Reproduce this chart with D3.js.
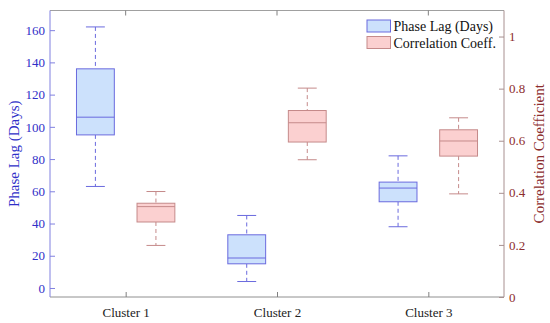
<!DOCTYPE html>
<html>
<head>
<meta charset="utf-8">
<script src="https://cdn.jsdelivr.net/npm/d3@7"></script>
<style>
  body { margin: 0; background: #fff; }
  svg, svg text { font-family: 'Liberation Serif', 'Times New Roman', Times, serif !important; }
</style>
</head>
<body>
<svg id="chart" width="550" height="323"></svg>
<script>
(function () {
    'use strict';

    // categories and box statistics: [whiskerLow, q1, median, q3, whiskerHigh]
    const clusters = ["Cluster 1", "Cluster 2", "Cluster 3"];
    const phaseLag = [
        [63, 95, 106, 136, 162],
        [4, 15, 18.6, 33, 45],
        [38, 53.5, 62, 65.7, 82]
    ];
    const corrCoeff = [
        [0.198, 0.288, 0.347, 0.36, 0.405],
        [0.527, 0.595, 0.669, 0.716, 0.802],
        [0.396, 0.541, 0.599, 0.642, 0.688]
    ];
    const leftTicks = [0, 20, 40, 60, 80, 100, 120, 140, 160];
    const rightTicks = [0, 0.2, 0.4, 0.6, 0.8, 1];

    const margin = {left: 50, right: 46, top: 10.5, bottom: 26};
    const width = 550, height = 323;
    const x0 = margin.left, x1 = width - margin.right;
    const y0 = height - margin.bottom, y1 = margin.top;

    const x = d3.scaleLinear().domain([0.5, 3.5]).range([x0, x1]);
    const yL = d3.scaleLinear().domain([-5.6, 172.2]).range([y0, y1]);
    const yR = d3.scaleLinear().domain([0, 1.1]).range([y0, y1]);

    const blue = {fill: "#cce1fc", stroke: "#6a6ade", text: "#2f2fc8", axis: "#8080e0"};
    const red = {fill: "#fbd0d0", stroke: "#c58a8a", text: "#8c2d2d", axis: "#a89090"};

    const svg = d3.select("#chart");

    // frame: top and bottom lines
    svg.append("line").attr("x1", x0).attr("x2", x1).attr("y1", y1).attr("y2", y1)
        .attr("stroke", "#a0a0a0");
    svg.append("line").attr("x1", x0).attr("x2", x1).attr("y1", y0).attr("y2", y0)
        .attr("stroke", "#909090");

    // bottom axis
    const gx = svg.append("g").attr("transform", `translate(0,${y0})`)
        .call(d3.axisBottom(x).tickValues([1, 2, 3]).tickSizeInner(-5).tickSizeOuter(0)
            .tickFormat(d => clusters[d - 1]));
    gx.attr("font-family", null).attr("font-size", 13);
    gx.select(".domain").remove();
    gx.selectAll(".tick line").attr("stroke", "#808080");
    gx.selectAll(".tick text").attr("y", 11).attr("fill", "#222");

    // top ticks
    svg.append("g").selectAll("line").data([1, 2, 3]).join("line")
        .attr("x1", d => x(d)).attr("x2", d => x(d))
        .attr("y1", y1).attr("y2", y1 + 5).attr("stroke", "#808080");

    // left axis
    const gl = svg.append("g").attr("transform", `translate(${x0},0)`)
        .call(d3.axisLeft(yL).tickValues(leftTicks).tickSizeInner(-5).tickSizeOuter(0));
    gl.attr("font-family", null).attr("font-size", 13);
    gl.select(".domain").attr("stroke", blue.axis).attr("d", `M0,${y1}V${y0}`);
    gl.selectAll(".tick line").attr("stroke", blue.axis);
    gl.selectAll(".tick text").attr("fill", blue.text).attr("x", -5);

    // right axis
    const gr = svg.append("g").attr("transform", `translate(${x1},0)`)
        .call(d3.axisRight(yR).tickValues(rightTicks).tickSizeInner(-5).tickSizeOuter(0)
            .tickFormat(d3.format("~g")));
    gr.attr("font-family", null).attr("font-size", 13);
    gr.select(".domain").attr("stroke", red.axis).attr("d", `M0,${y1}V${y0}`);
    gr.selectAll(".tick line").attr("stroke", red.axis);
    gr.selectAll(".tick text").attr("fill", red.text).attr("x", 5);

    // axis titles
    svg.append("text")
        .attr("transform", `translate(19,${(y0 + y1) / 2}) rotate(-90)`)
        .attr("text-anchor", "middle").attr("fill", blue.text)
        .attr("font-size", 15).text("Phase Lag (Days)");
    svg.append("text")
        .attr("transform", `translate(544,${(y0 + y1) / 2}) rotate(-90)`)
        .attr("text-anchor", "middle").attr("fill", red.text)
        .attr("font-size", 15).text("Correlation Coefficient");

    const boxW = 0.25;

    function drawBoxes(data, y, col, offset) {
        const g = svg.append("g");
        const grp = g.selectAll("g").data(data).join("g");
        const cx = (d, i) => x(i + 1 + offset);
        // whiskers (dashed)
        grp.append("line")
            .attr("x1", cx).attr("x2", cx)
            .attr("y1", d => y(d[4])).attr("y2", d => y(d[3]))
            .attr("stroke", col.stroke).attr("stroke-dasharray", "4,3");
        grp.append("line")
            .attr("x1", cx).attr("x2", cx)
            .attr("y1", d => y(d[1])).attr("y2", d => y(d[0]))
            .attr("stroke", col.stroke).attr("stroke-dasharray", "4,3");
        // caps
        [0, 4].forEach(k => {
            grp.append("line")
                .attr("x1", (d, i) => x(i + 1 + offset - boxW / 4))
                .attr("x2", (d, i) => x(i + 1 + offset + boxW / 4))
                .attr("y1", d => y(d[k])).attr("y2", d => y(d[k]))
                .attr("stroke", col.stroke);
        });
        // box
        grp.append("rect")
            .attr("x", (d, i) => x(i + 1 + offset - boxW / 2))
            .attr("width", x(boxW) - x(0))
            .attr("y", d => y(d[3]))
            .attr("height", d => y(d[1]) - y(d[3]))
            .attr("fill", col.fill).attr("stroke", col.stroke);
        // median
        grp.append("line")
            .attr("x1", (d, i) => x(i + 1 + offset - boxW / 2))
            .attr("x2", (d, i) => x(i + 1 + offset + boxW / 2))
            .attr("y1", d => y(d[2])).attr("y2", d => y(d[2]))
            .attr("stroke", col.stroke);
    }

    drawBoxes(phaseLag, yL, blue, -0.2);
    drawBoxes(corrCoeff, yR, red, 0.2);

    // legend
    const legend = svg.append("g").attr("transform", "translate(367,20)");
    [["Phase Lag (Days)", blue], ["Correlation Coeff.", red]].forEach((d, i) => {
        legend.append("rect").attr("x", 0).attr("y", i * 16.5)
            .attr("width", 23.5).attr("height", 12)
            .attr("fill", d[1].fill).attr("stroke", d[1].stroke);
        legend.append("text").attr("x", 26.5).attr("y", i * 16.5 + 11)
            .attr("fill", "#111").attr("font-size", 14).text(d[0]);
    });
}());
</script>
</body>
</html>
